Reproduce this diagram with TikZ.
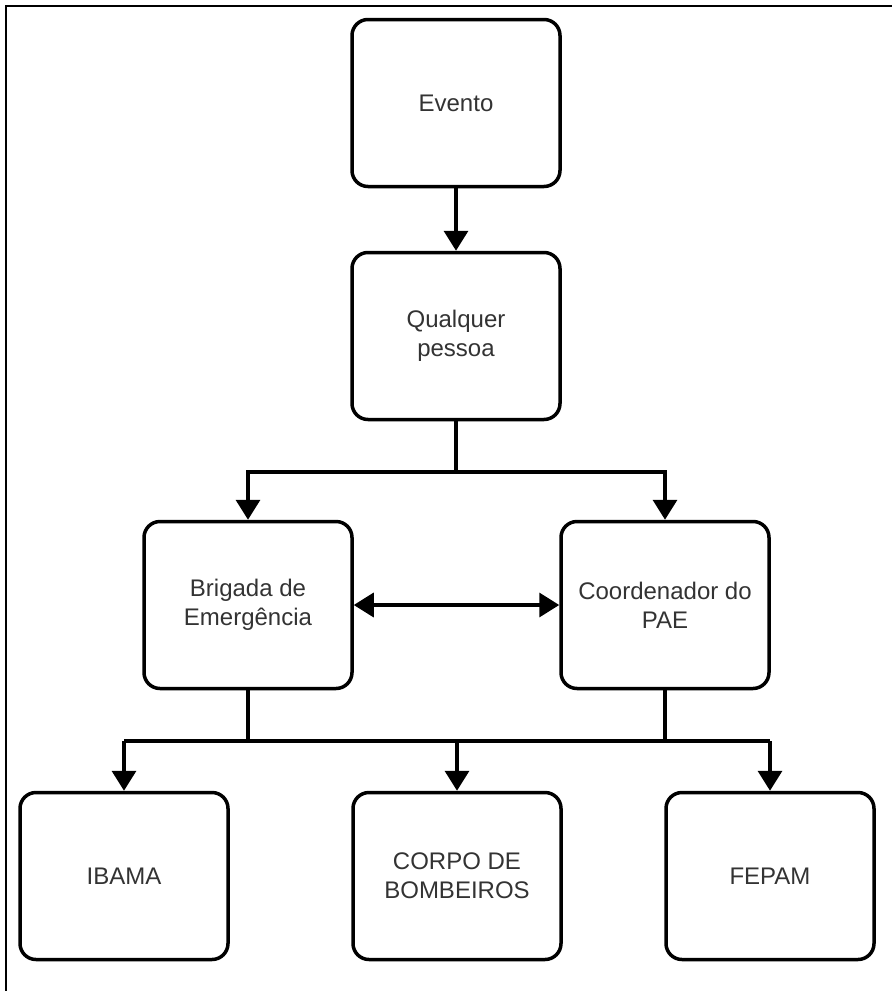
\documentclass[tikz,border=0pt]{standalone}
\usepackage{fontspec}
\setmainfont{Liberation Sans}
\usetikzlibrary{arrows.meta, positioning}

\begin{document}
\begin{tikzpicture}[
    x=1pt, y=-1pt,
    box/.style={draw, line width=3.5pt, rounded corners=16pt,
                minimum width=208pt, minimum height=167pt,
                font=\fontsize{24}{29}\selectfont, text=black!80,
                align=center, fill=white},
    link/.style={line width=3.5pt},
    >={Triangle[length=20pt,width=24pt]}
  ]
  \useasboundingbox (0,0) rectangle (892,991);
  % frame (only top and left edges show)
  \draw[line width=2pt] (6,991) -- (6,6) -- (892,6);

  \node[box] (evento) at (456, 103) {Evento};
  \node[box] (qualquer) at (456, 336) {Qualquer\\pessoa};
  \node[box] (brigada) at (248, 605) {Brigada de\\Emergência};
  \node[box] (coord) at (665, 605) {Coordenador do\\PAE};
  \node[box] (ibama) at (124, 876) {IBAMA};
  \node[box] (corpo) at (457, 876) {CORPO DE\\BOMBEIROS};
  \node[box] (fepam) at (770, 876) {FEPAM};

  \coordinate (split) at (456, 472);
  \coordinate (busL) at (124, 741);
  \coordinate (busR) at (770, 741);

  \draw[link, ->] (evento) -- (qualquer);
  \draw[link] (qualquer) -- (split);
  \draw[link, ->] (split) -| (brigada);
  \draw[link, ->] (split) -| (coord);
  \draw[link, <->] (brigada) -- (coord);

  \draw[link] (brigada) -- (brigada |- busL);
  \draw[link] (coord) -- (coord |- busR);
  \draw[link] (busL) -- (busR);
  \draw[link, ->] (busL) -- (ibama);
  \draw[link, ->] (corpo |- busL) -- (corpo);
  \draw[link, ->] (busR) -- (fepam);
\end{tikzpicture}
\end{document}
